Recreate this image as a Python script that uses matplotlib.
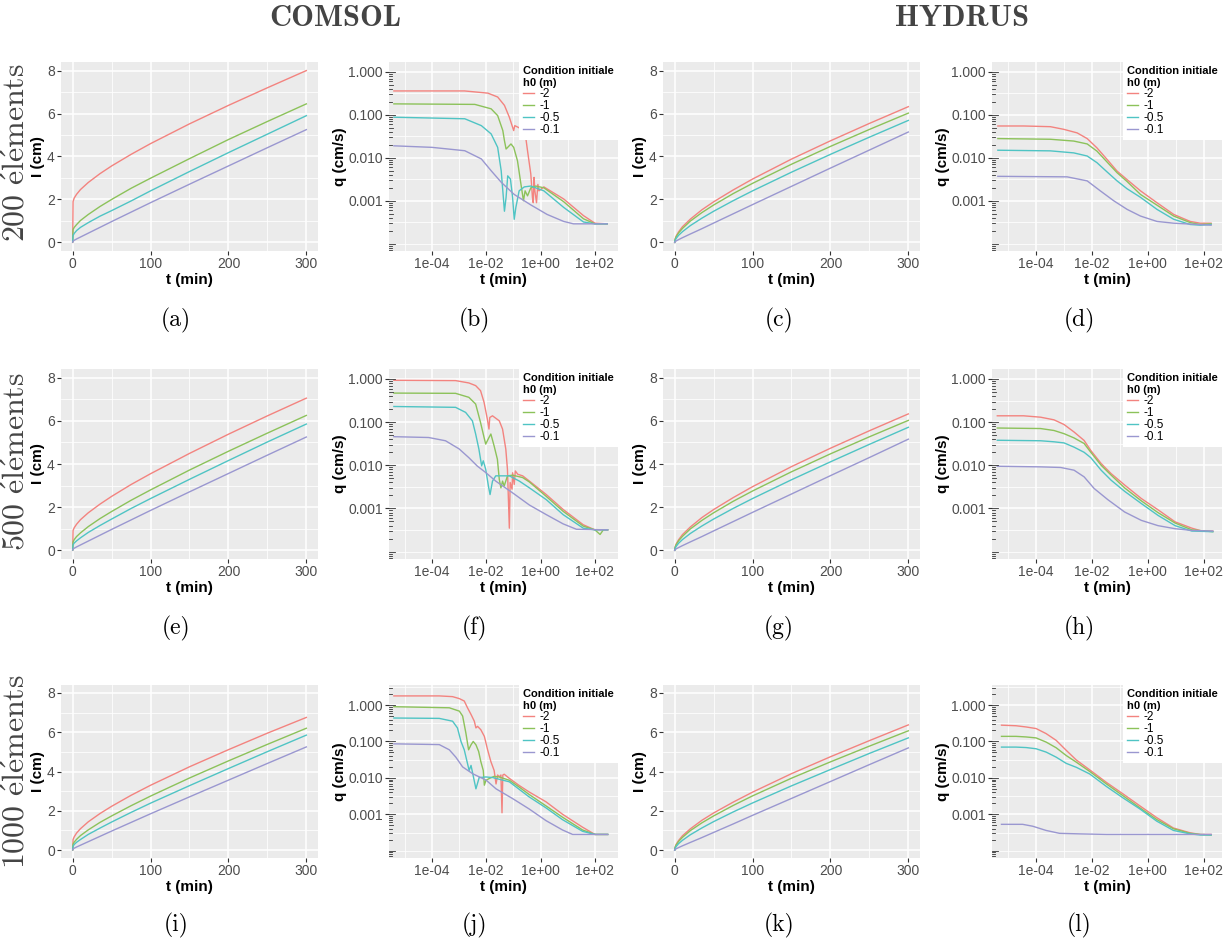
import numpy as np
import matplotlib
matplotlib.use("Agg")
import matplotlib.pyplot as plt
from matplotlib.ticker import NullFormatter
from matplotlib.lines import Line2D

plt.rcParams['font.family'] = ['Liberation Sans', 'DejaVu Sans']
plt.rcParams['mathtext.fontset'] = 'cm'

COLORS = ['#F3837F', '#8CC25A', '#4FC4C4', '#9A97D0']
H0_LABELS = ['-2', '-1', '-0.5', '-0.1']

# --- infiltration cumulée I (cm) en fonction de t (min) ---
T_I = [0, 0.5, 2, 5, 10, 20, 35, 50, 75, 100, 150, 200, 250, 300]

# COMSOL
A_I = [[0, 1.9, 2.07, 2.24, 2.46, 2.79, 3.2, 3.56, 4.1, 4.6, 5.52, 6.38, 7.2, 8.0],
       [0.05, 0.6, 0.7, 0.83, 1.02, 1.3, 1.67, 2.0, 2.52, 2.99, 3.9, 4.79, 5.63, 6.45],
       [0.02, 0.32, 0.42, 0.55, 0.7, 0.92, 1.22, 1.48, 1.93, 2.4, 3.3, 4.18, 5.04, 5.9],
       [0.02, 0.06, 0.1, 0.16, 0.25, 0.43, 0.7, 0.97, 1.41, 1.85, 2.71, 3.56, 4.41, 5.25]]
E_I = [[0, 0.92, 1.05, 1.21, 1.42, 1.74, 2.14, 2.5, 3.05, 3.55, 4.49, 5.38, 6.23, 7.05],
       [0.02, 0.39, 0.5, 0.64, 0.81, 1.1, 1.47, 1.8, 2.32, 2.8, 3.72, 4.59, 5.43, 6.25],
       [0.02, 0.26, 0.34, 0.44, 0.58, 0.83, 1.15, 1.45, 1.94, 2.4, 3.29, 4.16, 5.02, 5.85],
       [0.02, 0.06, 0.1, 0.16, 0.25, 0.43, 0.7, 0.97, 1.41, 1.85, 2.71, 3.56, 4.41, 5.25]]
I_I = [[0, 0.54, 0.68, 0.87, 1.09, 1.44, 1.86, 2.23, 2.79, 3.3, 4.24, 5.11, 5.95, 6.75],
       [0.02, 0.3, 0.41, 0.55, 0.74, 1.03, 1.41, 1.74, 2.26, 2.75, 3.67, 4.54, 5.38, 6.2],
       [0.02, 0.2, 0.29, 0.4, 0.54, 0.8, 1.12, 1.43, 1.92, 2.39, 3.28, 4.15, 5.01, 5.85],
       [0.02, 0.06, 0.1, 0.16, 0.25, 0.43, 0.7, 0.97, 1.41, 1.85, 2.71, 3.56, 4.41, 5.25]]
# HYDRUS
C_I = [[0, 0.15, 0.3, 0.49, 0.73, 1.08, 1.52, 1.89, 2.44, 2.95, 3.88, 4.73, 5.54, 6.32],
       [0, 0.13, 0.27, 0.44, 0.65, 0.99, 1.39, 1.74, 2.27, 2.75, 3.64, 4.47, 5.26, 6.02],
       [0, 0.09, 0.19, 0.33, 0.5, 0.78, 1.13, 1.45, 1.94, 2.4, 3.27, 4.1, 4.9, 5.68],
       [0, 0.03, 0.07, 0.13, 0.22, 0.39, 0.64, 0.9, 1.33, 1.76, 2.61, 3.46, 4.3, 5.14]]
G_I = [[0, 0.15, 0.3, 0.49, 0.73, 1.08, 1.52, 1.89, 2.44, 2.95, 3.88, 4.73, 5.54, 6.32],
       [0, 0.13, 0.27, 0.44, 0.65, 0.99, 1.39, 1.74, 2.27, 2.75, 3.64, 4.47, 5.26, 6.02],
       [0, 0.09, 0.19, 0.33, 0.5, 0.78, 1.13, 1.45, 1.94, 2.4, 3.27, 4.1, 4.91, 5.7],
       [0, 0.03, 0.07, 0.13, 0.22, 0.39, 0.64, 0.9, 1.33, 1.76, 2.61, 3.46, 4.3, 5.15]]
K_I = [[0, 0.15, 0.3, 0.49, 0.73, 1.08, 1.52, 1.89, 2.44, 2.95, 3.89, 4.75, 5.57, 6.37],
       [0, 0.13, 0.27, 0.44, 0.65, 0.99, 1.39, 1.74, 2.27, 2.76, 3.66, 4.49, 5.29, 6.07],
       [0, 0.09, 0.19, 0.33, 0.5, 0.78, 1.13, 1.45, 1.94, 2.4, 3.27, 4.1, 4.92, 5.71],
       [0, 0.03, 0.07, 0.13, 0.22, 0.39, 0.64, 0.9, 1.33, 1.77, 2.63, 3.49, 4.35, 5.2]]

# --- flux q (cm/s) : log10(t) et q pour chaque h0 ---
# COMSOL 200 éléments (b)
B_LT = [[-5.4, -2.8, -1.94, -1.58, -1.33, -1.15, -0.99, -0.95, -0.79, -0.55, -0.48, -0.36, -0.3,
         -0.27, -0.24, -0.21, -0.15, -0.1, -0.06, 0.12, 0.85, 1.58, 2.0, 2.45],
        [-5.4, -2.42, -1.82, -1.58, -1.39, -1.33, -1.27, -1.09, -0.99, -0.85, -0.73, -0.63, -0.57,
         -0.48, -0.36, -0.18, 0.12, 0.85, 1.58, 2.0, 2.45],
        [-5.4, -2.79, -2.18, -1.82, -1.58, -1.45, -1.33, -1.27, -1.21, -1.11, -1.03, -0.97, -0.91,
         -0.79, -0.6, -0.36, 0.12, 0.85, 1.58, 2.0, 2.45],
        [-5.4, -4.0, -2.79, -2.18, -1.82, -1.45, -0.97, -0.36, 0.24, 0.85, 1.21, 2.45]]
B_Q = [[0.36, 0.36, 0.32, 0.26, 0.166, 0.088, 0.043, 0.056, 0.05, 0.031, 0.0145, 0.0042, 0.0012,
        0.0009, 0.0035, 0.0017, 0.0009, 0.0024, 0.0017, 0.0021, 0.0011, 0.00045, 0.0003, 0.00029],
       [0.18, 0.175, 0.138, 0.096, 0.043, 0.025, 0.016, 0.021, 0.0175, 0.0085, 0.0026, 0.001, 0.0017,
        0.0013, 0.002, 0.0022, 0.002, 0.00095, 0.00038, 0.00029, 0.00029],
       [0.088, 0.081, 0.056, 0.036, 0.0175, 0.005, 0.00057, 0.0012, 0.0038, 0.0032, 0.0012, 0.00037,
        0.0007, 0.0017, 0.0021, 0.0022, 0.0017, 0.0007, 0.00032, 0.00029, 0.00029],
       [0.019, 0.0175, 0.0146, 0.0094, 0.005, 0.0027, 0.0014, 0.0008, 0.00048, 0.00033, 0.00029, 0.00029]]

# COMSOL 500 éléments (f)
F_LT = [[-5.4, -3.13, -2.64, -2.39, -2.21, -2.08, -1.96, -1.9, -1.87, -1.77, -1.52, -1.4, -1.28,
         -1.22, -1.15, -1.12, -1.05, -1.03, -0.97, -0.93, -0.84, -0.66, -0.41, 0.21, 0.83, 1.57, 2.0, 2.47],
        [-5.4, -3.13, -2.64, -2.39, -2.21, -2.08, -2.02, -1.9, -1.83, -1.71, -1.59, -1.52, -1.46,
         -1.4, -1.34, -1.22, -1.03, -0.66, -0.41, 0.21, 0.83, 1.57, 2.0, 2.19, 2.31, 2.47],
        [-5.4, -3.13, -2.76, -2.51, -2.39, -2.27, -2.17, -2.11, -2.02, -1.92, -1.86, -1.77, -1.65,
         -1.46, -1.15, -0.78, -0.41, 0.21, 0.83, 1.57, 2.0, 2.47],
        [-5.4, -4.12, -3.5, -3.0, -2.64, -2.33, -2.02, -1.65, -1.03, -0.41, 0.21, 0.83, 1.32, 2.47]]
F_Q = [[0.93, 0.915, 0.807, 0.70, 0.535, 0.287, 0.117, 0.069, 0.128, 0.14, 0.107, 0.069, 0.0236,
        0.0081, 0.00035, 0.004, 0.0028, 0.0067, 0.0036, 0.0074, 0.0062, 0.0057, 0.0043, 0.0021,
        0.00095, 0.00042, 0.00032, 0.00032],
       [0.47, 0.464, 0.375, 0.262, 0.098, 0.044, 0.031, 0.044, 0.053, 0.028, 0.0138, 0.0047, 0.003,
        0.0043, 0.0033, 0.0057, 0.0059, 0.0052, 0.0041, 0.0019, 0.00086, 0.00039, 0.00032, 0.00025,
        0.00032, 0.00032],
       [0.23, 0.22, 0.168, 0.107, 0.053, 0.0236, 0.0097, 0.0127, 0.0081, 0.0033, 0.0021, 0.0043,
        0.0057, 0.0057, 0.0057, 0.0043, 0.003, 0.0016, 0.00072, 0.00035, 0.00032, 0.00032],
       [0.046, 0.044, 0.037, 0.024, 0.015, 0.0096, 0.0068, 0.0043, 0.0023, 0.0012, 0.00072, 0.00044,
        0.00033, 0.00032]]

# COMSOL 1000 éléments (j)
J_LT = [[-5.4, -3.73, -3.24, -2.99, -2.81, -2.69, -2.56, -2.44, -2.38, -2.32, -2.2, -2.07, -1.95,
         -1.83, -1.71, -1.64, -1.58, -1.52, -1.46, -1.42, -1.39, -1.34, -1.15, -0.79, -0.42, 0.2,
         0.81, 1.55, 2.0, 2.47],
        [-5.4, -3.36, -2.99, -2.87, -2.75, -2.65, -2.56, -2.48, -2.38, -2.28, -2.2, -2.11, -2.07,
         -2.01, -1.89, -1.71, -1.52, -1.15, -0.79, -0.42, 0.2, 0.81, 1.55, 2.0, 2.47],
        [-5.4, -3.73, -3.24, -3.06, -2.93, -2.81, -2.63, -2.56, -2.38, -2.26, -2.01, -1.77, -1.15,
         -0.42, 0.2, 0.81, 1.55, 2.0, 2.47],
        [-5.4, -3.73, -3.36, -3.12, -2.87, -2.5, -2.0, -1.64, -1.03, -0.42, 0.2, 0.81, 1.18, 2.47]]
J_Q = [[1.78, 1.78, 1.7, 1.5, 1.29, 0.84, 0.55, 0.36, 0.235, 0.26, 0.21, 0.138, 0.059, 0.028,
        0.016, 0.0068, 0.012, 0.0106, 0.012, 0.0011, 0.012, 0.0126, 0.0097, 0.0062, 0.0041, 0.0022,
        0.001, 0.00044, 0.00028, 0.00028],
       [0.9, 0.84, 0.68, 0.5, 0.17, 0.059, 0.081, 0.1, 0.081, 0.053, 0.028, 0.016, 0.0063, 0.0086,
        0.0096, 0.011, 0.0106, 0.0086, 0.0056, 0.0035, 0.0017, 0.00083, 0.00037, 0.00028, 0.00028],
       [0.44, 0.43, 0.36, 0.235, 0.1, 0.059, 0.016, 0.022, 0.005, 0.0102, 0.0106, 0.0102, 0.0078,
        0.003, 0.0015, 0.00071, 0.00034, 0.00028, 0.00028],
       [0.086, 0.082, 0.059, 0.037, 0.02, 0.013, 0.0086, 0.005, 0.0027, 0.0014, 0.00067, 0.00037,
        0.00028, 0.00028]]

# HYDRUS 200 éléments (d)
D_LT = [[-5.37, -4.44, -3.49, -3.01, -2.53, -2.17, -1.82, -1.46, -1.1, -0.74, -0.26, 0.33, 0.93, 1.52, 1.88, 2.27],
        [-5.37, -3.49, -2.65, -2.17, -1.82, -1.46, -1.1, -0.74, -0.26, 0.33, 0.93, 1.52, 1.88, 2.27],
        [-5.37, -3.49, -2.65, -2.17, -1.82, -1.46, -1.1, -0.74, -0.26, 0.33, 0.93, 1.52, 1.88, 2.27],
        [-5.37, -2.89, -2.17, -1.7, -1.22, -0.74, -0.26, 0.33, 0.93, 2.27]]
D_Q = [[0.055, 0.055, 0.053, 0.046, 0.038, 0.028, 0.017, 0.0092, 0.0049, 0.0031, 0.0017, 0.0009,
        0.00048, 0.00033, 0.0003, 0.0003],
       [0.028, 0.027, 0.0245, 0.021, 0.0143, 0.008, 0.0045, 0.0028, 0.0014, 0.00079, 0.00044,
        0.00031, 0.00028, 0.00029],
       [0.015, 0.0145, 0.013, 0.011, 0.0077, 0.0047, 0.0029, 0.0019, 0.0012, 0.00063, 0.00037,
        0.00028, 0.00027, 0.00028],
       [0.0037, 0.0036, 0.0029, 0.0017, 0.001, 0.00063, 0.00044, 0.00033, 0.0003, 0.00027]]

# HYDRUS 500 éléments (h)
H_LT = [[-5.39, -4.45, -3.84, -3.36, -3.0, -2.64, -2.28, -2.04, -1.67, -1.31, -0.83, -0.23, 0.37, 0.98, 1.58, 1.94, 2.33],
        [-5.39, -3.84, -3.36, -3.0, -2.64, -2.28, -2.04, -1.67, -1.31, -0.83, -0.23, 0.37, 0.98, 1.58, 2.33],
        [-5.39, -3.84, -3.36, -3.0, -2.64, -2.28, -2.04, -1.67, -1.31, -0.83, -0.23, 0.37, 0.98, 1.58, 2.33],
        [-5.39, -3.84, -3.12, -2.64, -2.28, -1.92, -1.43, -0.83, -0.23, 0.37, 0.98, 1.58, 2.33]]
H_Q = [[0.14, 0.14, 0.13, 0.113, 0.088, 0.059, 0.0376, 0.022, 0.011, 0.0064, 0.0035, 0.0017,
        0.00093, 0.00049, 0.00035, 0.0003, 0.0003],
       [0.073, 0.071, 0.064, 0.054, 0.043, 0.032, 0.02, 0.01, 0.0059, 0.003, 0.0015, 0.0008,
        0.00046, 0.00032, 0.00029],
       [0.038, 0.037, 0.035, 0.033, 0.0263, 0.02, 0.015, 0.0077, 0.0045, 0.0025, 0.0013, 0.00069,
        0.0004, 0.0003, 0.00029],
       [0.0095, 0.0092, 0.0089, 0.0077, 0.0054, 0.0029, 0.0016, 0.00083, 0.00053, 0.0004, 0.00034,
        0.00031, 0.0003]]

# HYDRUS 1000 éléments (l)
L_LT = [[-5.24, -4.72, -4.36, -4.0, -3.64, -3.28, -2.92, -2.56, -2.08, -1.48, -0.88, -0.28, 0.32, 0.92, 1.52, 1.88, 2.27],
        [-5.24, -4.72, -4.36, -4.0, -3.64, -3.28, -2.92, -2.56, -2.08, -1.48, -0.88, -0.28, 0.32, 0.92, 1.52, 1.88, 2.27],
        [-5.24, -4.72, -4.36, -4.0, -3.64, -3.28, -2.92, -2.56, -2.08, -1.48, -0.88, -0.28, 0.32, 0.92, 1.52, 1.88, 2.27],
        [-5.24, -4.48, -4.12, -3.64, -3.16, -2.44, -1.48, -0.28, 2.27]]
L_Q = [[0.28, 0.27, 0.25, 0.226, 0.164, 0.107, 0.057, 0.031, 0.0166, 0.0075, 0.0036, 0.0017,
        0.00081, 0.00042, 0.00031, 0.00028, 0.00028],
       [0.138, 0.138, 0.133, 0.125, 0.096, 0.067, 0.041, 0.027, 0.015, 0.0068, 0.0032, 0.0015,
        0.00072, 0.0004, 0.0003, 0.00028, 0.00027],
       [0.07, 0.07, 0.068, 0.063, 0.051, 0.037, 0.025, 0.0195, 0.0128, 0.0058, 0.0028, 0.0014,
        0.00065, 0.00036, 0.00029, 0.00027, 0.00027],
       [0.00053, 0.00053, 0.00047, 0.00036, 0.0003, 0.00029, 0.00028, 0.00028, 0.00028]]

W, H = 1226, 942
fig = plt.figure(figsize=(W / 100, H / 100), dpi=100)

COL_X = [(61, 318), (389, 618), (663, 920), (992, 1222)]
ROW_Y = [(62, 251), (369, 559), (685, 858)]
Q_YLIM = [(-4.17, 0.23), (-4.17, 0.23), (-4.2, 0.55)]


def add_panel(col, row):
    x0, x1 = COL_X[col]
    y0, y1 = ROW_Y[row]
    return fig.add_axes([x0 / W, 1 - y1 / H, (x1 - x0) / W, (y1 - y0) / H])


def style(ax):
    ax.set_facecolor('#EBEBEB')
    for s in ax.spines.values():
        s.set_visible(False)
    ax.grid(True, which='major', color='white', lw=1.1)
    ax.grid(True, which='minor', color='white', lw=0.55)
    ax.set_axisbelow(True)
    ax.tick_params(which='major', length=3, width=0.8, color='#333333',
                   labelcolor='#4D4D4D', labelsize=10, pad=1.5)
    ax.tick_params(which='minor', length=0)


def draw_I(ax, series):
    for vals, c in zip(series, COLORS):
        ax.plot(T_I, vals, color=c, lw=1.0)
    ax.set_xlim(-15, 315)
    ax.set_ylim(-0.4, 8.4)
    ax.set_xticks([0, 100, 200, 300])
    ax.set_xticks([50, 150, 250], minor=True)
    ax.set_yticks([0, 2, 4, 6, 8])
    ax.set_yticks([1, 3, 5, 7], minor=True)
    style(ax)
    ax.set_xlabel('t (min)', fontsize=11, fontweight='bold', labelpad=1)
    ax.set_ylabel('I (cm)', fontsize=11, fontweight='bold', labelpad=1)


def draw_q(ax, lts, qs, xlim, ylim):
    for lt, q, c in zip(lts, qs, COLORS):
        ax.plot(np.power(10.0, lt), q, color=c, lw=1.0)
    ax.set_xscale('log')
    ax.set_yscale('log')
    ax.set_xlim(10 ** xlim[0], 10 ** xlim[1])
    ax.set_ylim(10 ** ylim[0], 10 ** ylim[1])
    ax.set_xticks([1e-4, 1e-2, 1, 1e2], labels=['1e-04', '1e-02', '1e+00', '1e+02'])
    ax.set_xticks([1e-5, 1e-3, 1e-1, 1e1], minor=True)
    ax.set_yticks([1e-3, 1e-2, 1e-1, 1], labels=['0.001', '0.010', '0.100', '1.000'])
    ymin = [1e-4] + [10 ** e for e in (-3.5, -2.5, -1.5, -0.5, 0.5) if e < ylim[1]]
    ax.set_yticks(ymin, minor=True)
    ax.xaxis.set_minor_formatter(NullFormatter())
    ax.yaxis.set_minor_formatter(NullFormatter())
    style(ax)
    # log ticks (annotation_logticks côté gauche)
    tr = ax.get_yaxis_transform()
    for d in range(-5, 1):
        for k in range(1, 10):
            v = k * 10.0 ** d
            if not (10 ** ylim[0] <= v <= 10 ** ylim[1]):
                continue
            ln = 0.027 if k == 1 else (0.018 if k == 5 else 0.011)
            ax.plot([0, ln], [v, v], transform=tr, color='#333333', lw=0.6, clip_on=False)
    ax.set_xlabel('t (min)', fontsize=11, fontweight='bold', labelpad=1)
    ax.set_ylabel('q (cm/s)', fontsize=11, fontweight='bold', labelpad=1)
    handles = [Line2D([], [], color=c, lw=1.0) for c in COLORS]
    leg = ax.legend(handles, H0_LABELS, title='Condition initiale\nh0 (m)', loc='upper right',
                    borderaxespad=0, fontsize=8.5, title_fontsize=8, handlelength=0.9,
                    handletextpad=0.5, labelspacing=0.0, borderpad=0.35, frameon=True,
                    fancybox=False, framealpha=1, facecolor='white', edgecolor='none',
                    alignment='left')
    leg.get_title().set_fontweight('bold')


I_SETS = [(A_I, C_I), (E_I, G_I), (I_I, K_I)]
Q_SETS = [((B_LT, B_Q), (D_LT, D_Q)), ((F_LT, F_Q), (H_LT, H_Q)), ((J_LT, J_Q), (L_LT, L_Q))]

for row in range(3):
    comsol_i, hydrus_i = I_SETS[row]
    (c_lt, c_q), (h_lt, h_q) = Q_SETS[row]
    draw_I(add_panel(0, row), comsol_i)
    draw_q(add_panel(1, row), c_lt, c_q, (-5.58, 2.85), Q_YLIM[row])
    draw_I(add_panel(2, row), hydrus_i)
    draw_q(add_panel(3, row), h_lt, h_q, (-5.58, 2.66), Q_YLIM[row])

# titres de colonnes
fig.text(335 / W, 1 - 18 / H, 'COMSOL', family='cmb10', fontsize=22, color='#444444',
         ha='center', va='center')
fig.text(962 / W, 1 - 18 / H, 'HYDRUS', family='cmb10', fontsize=22, color='#444444',
         ha='center', va='center')

# étiquettes de lignes
ROW_LABELS = [r'$\mathrm{200\ \acute{e}l\acute{e}ments}$',
              r'$\mathrm{500\ \acute{e}l\acute{e}ments}$',
              r'$\mathrm{1000\ \acute{e}l\acute{e}ments}$']
ROW_LABEL_Y = [153, 462, 772]
for lab, yc in zip(ROW_LABELS, ROW_LABEL_Y):
    fig.text(17 / W, 1 - yc / H, lab, fontsize=23, rotation=90, color='#444444',
             ha='center', va='center')

# légendes des sous-figures
CAPTIONS = [['(a)', '(b)', '(c)', '(d)'], ['(e)', '(f)', '(g)', '(h)'], ['(i)', '(j)', '(k)', '(l)']]
CAP_X = [176, 474, 779, 1079]
CAP_Y = [320, 628, 925]
for row in range(3):
    for col in range(4):
        fig.text(CAP_X[col] / W, 1 - CAP_Y[row] / H, CAPTIONS[row][col], family='cmr10',
                 fontsize=17, ha='center', va='center')

fig.savefig('out.png', dpi=100)
